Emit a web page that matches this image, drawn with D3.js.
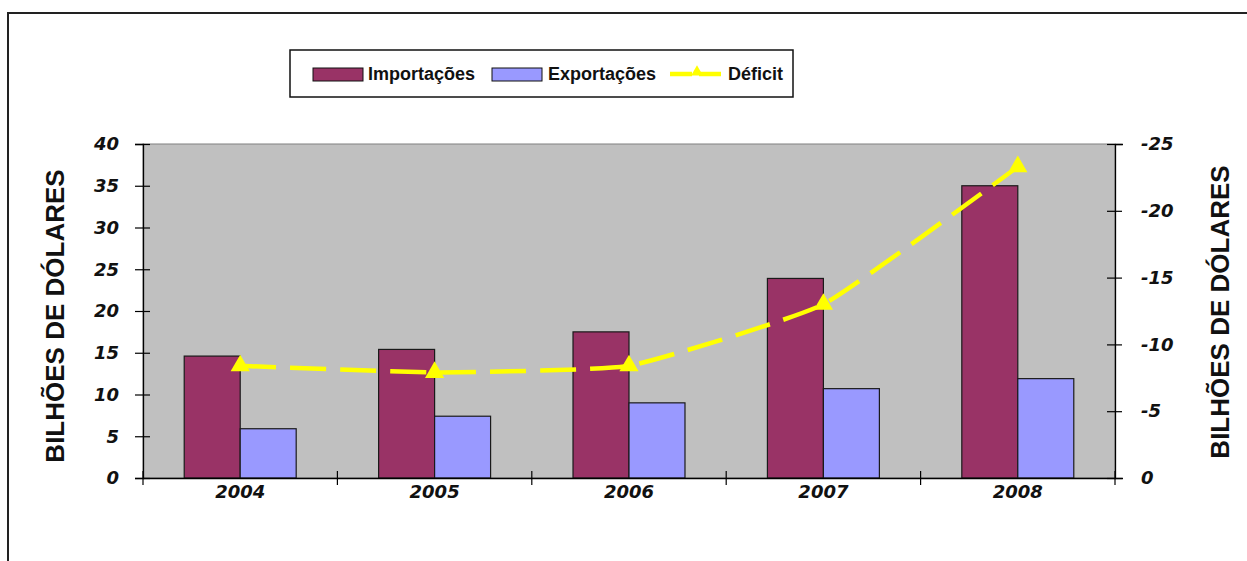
<!DOCTYPE html>
<html>
<head>
<meta charset="utf-8">
<script src="https://cdn.jsdelivr.net/npm/d3@7"></script>
<style>
  html, body { margin: 0; padding: 0; background: #ffffff; }
  svg { display: block; font-family: "Liberation Sans", Arial, sans-serif; }
</style>
</head>
<body>
<svg id="chart" width="1247" height="561"></svg>
<script>
// Balança comercial: importações, exportações e déficit (bilhões de dólares)
const years = ["2004", "2005", "2006", "2007", "2008"];
const importacoes = [14.6, 15.4, 17.5, 23.9, 35.0];
const exportacoes = [5.9, 7.4, 9.0, 10.7, 11.9];
const deficit = [-8.4, -7.9, -8.4, -13.0, -23.3];
const leftTicks = [0, 5, 10, 15, 20, 25, 30, 35, 40];
const rightTicks = [0, -5, -10, -15, -20, -25];
const seriesNames = ["Importações", "Exportações", "Déficit"];
const axisTitle = "BILHÕES DE DÓLARES";

const colors = { imp: "#993366", exp: "#9999ff", def: "#ffff00", plot: "#c0c0c0" };

const svg = d3.select("#chart");
const W = 1247, H = 561;
const plot = { left: 143, right: 1115, top: 144, bottom: 478 };

// outer chart frame
svg.append("rect")
  .attr("x", 8).attr("y", 13)
  .attr("width", W + 20).attr("height", H + 20)
  .attr("fill", "#ffffff").attr("stroke", "#222").attr("stroke-width", 2);

const x = d3.scaleBand().domain(years).range([plot.left, plot.right]).paddingInner(0).paddingOuter(0);
const yL = d3.scaleLinear().domain([0, 40]).range([plot.bottom, plot.top]);
const yR = d3.scaleLinear().domain([0, -25]).range([plot.bottom, plot.top]);

// plot area
svg.append("rect")
  .attr("x", plot.left).attr("y", plot.top)
  .attr("width", plot.right - plot.left).attr("height", plot.bottom - plot.top)
  .attr("fill", colors.plot).attr("stroke", "#808080").attr("stroke-width", 1);

// bars
const bw = x.bandwidth() * 0.288;
const inner = d3.scaleBand().domain(["imp", "exp"]).range([0, bw * 2]);
const barG = svg.append("g");
years.forEach((yr, i) => {
  const x0 = x(yr) + x.bandwidth() / 2 - bw;
  barG.append("rect")
    .attr("x", x0 + inner("imp")).attr("y", yL(importacoes[i]))
    .attr("width", inner.bandwidth()).attr("height", yL(0) - yL(importacoes[i]))
    .attr("fill", colors.imp).attr("stroke", "#1a1a1a").attr("stroke-width", 1.2);
  barG.append("rect")
    .attr("x", x0 + inner("exp")).attr("y", yL(exportacoes[i]))
    .attr("width", inner.bandwidth()).attr("height", yL(0) - yL(exportacoes[i]))
    .attr("fill", colors.exp).attr("stroke", "#1a1a1a").attr("stroke-width", 1.2);
});

// axes
const tickFont = g => g.selectAll("text")
  .attr("font-family", "'DejaVu Sans', sans-serif")
  .attr("font-size", 18).attr("font-weight", "bold").attr("font-style", "italic")
  .attr("fill", "#111");
const plain = d => String(d);

const axL = svg.append("g").attr("transform", `translate(${plot.left},0)`)
  .call(d3.axisLeft(yL).tickValues(leftTicks).tickSize(8).tickPadding(16).tickFormat(plain));
axL.selectAll(".tick line").attr("x2", -8).attr("x1", 7);
axL.call(tickFont);

const axR = svg.append("g").attr("transform", `translate(${plot.right},0)`)
  .call(d3.axisRight(yR).tickValues(rightTicks).tickSize(8).tickPadding(18).tickFormat(plain));
axR.selectAll(".tick line").attr("x1", -8).attr("x2", 7);
axR.call(tickFont);

const axB = svg.append("g").attr("transform", `translate(0,${plot.bottom})`)
  .call(d3.axisBottom(x).tickSize(0).tickPadding(7));
axB.call(tickFont);
axB.selectAll(".tick line").remove();
// category boundary ticks
const bounds = years.map(d => x(d)).concat([plot.right]);
axB.selectAll(".bound").data(bounds).enter().append("line")
  .attr("class", "bound")
  .attr("x1", d => d).attr("x2", d => d)
  .attr("y1", -7).attr("y2", 7)
  .attr("stroke", "#000").attr("stroke-width", 1.2);

[axL, axR, axB].forEach(a => a.selectAll(".domain").attr("stroke", "#000").attr("stroke-width", 1.3));
[axL, axR].forEach(a => a.selectAll(".tick line").attr("stroke", "#000").attr("stroke-width", 1.2));

// axis titles
svg.append("text")
  .attr("transform", `translate(64,${(plot.top + plot.bottom) / 2 + 5}) rotate(-90)`)
  .attr("text-anchor", "middle")
  .attr("font-size", 26).attr("font-weight", "bold").attr("fill", "#111")
  .text(axisTitle);
svg.append("text")
  .attr("transform", `translate(1229,${(plot.top + plot.bottom) / 2 + 1}) rotate(-90)`)
  .attr("text-anchor", "middle")
  .attr("font-size", 26).attr("font-weight", "bold").attr("fill", "#111")
  .text(axisTitle);

// déficit line (smoothed, long dash) with triangle markers
const pts = years.map((yr, i) => [x(yr) + x.bandwidth() / 2, yR(deficit[i])]);
svg.append("path")
  .attr("d", d3.line().curve(d3.curveCardinal.tension(0.6))(pts))
  .attr("fill", "none").attr("stroke", colors.def).attr("stroke-width", 4.5)
  .attr("stroke-dasharray", "36,14");
const tri = d3.symbol().type(d3.symbolTriangle).size(160);
svg.selectAll(".mk").data(pts).enter().append("path")
  .attr("class", "mk")
  .attr("transform", d => `translate(${d[0]},${d[1]})`)
  .attr("d", tri).attr("fill", colors.def);

// legend
const lg = svg.append("g");
lg.append("rect").attr("x", 290).attr("y", 50).attr("width", 503).attr("height", 47)
  .attr("fill", "#fff").attr("stroke", "#111").attr("stroke-width", 1.5);
const ly = 74;
lg.append("rect").attr("x", 313).attr("y", ly - 6).attr("width", 50).attr("height", 13)
  .attr("fill", colors.imp).attr("stroke", "#111").attr("stroke-width", 1);
lg.append("rect").attr("x", 492).attr("y", ly - 6).attr("width", 50).attr("height", 13)
  .attr("fill", colors.exp).attr("stroke", "#111").attr("stroke-width", 1);
lg.append("line").attr("x1", 670).attr("x2", 723).attr("y1", ly).attr("y2", ly)
  .attr("stroke", colors.def).attr("stroke-width", 4.5).attr("stroke-dasharray", "22,7");
lg.append("path").attr("transform", `translate(697,${ly - 2})`)
  .attr("d", d3.symbol().type(d3.symbolTriangle).size(60)).attr("fill", colors.def);
const lx = [368, 548, 728];
seriesNames.forEach((n, i) => {
  lg.append("text").attr("x", lx[i]).attr("y", ly + 6)
    .attr("font-size", 18).attr("font-weight", "bold").attr("fill", "#111")
    .text(n);
});
</script>
</body>
</html>
